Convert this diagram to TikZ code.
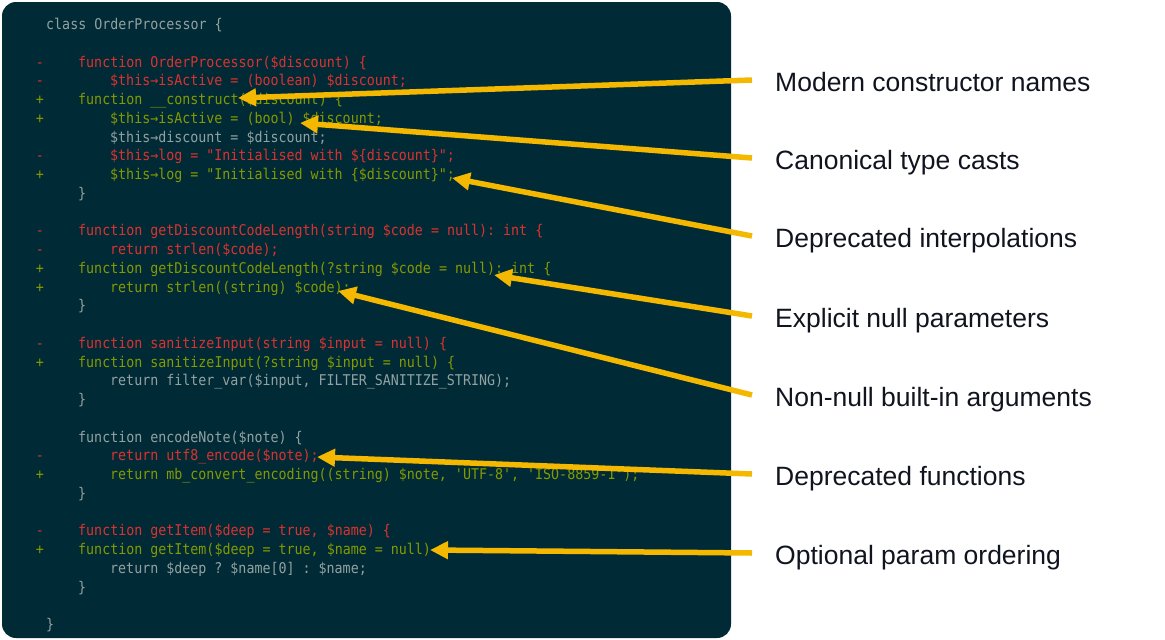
\documentclass[tikz,border=0pt]{standalone}
\usepackage{fontspec}
\setmonofont[FakeStretch=0.9]{DejaVu Sans Mono}
\newfontfamily\lblfont{Liberation Sans}
\usetikzlibrary{positioning,arrows.meta}
\definecolor{panel}{HTML}{002B36}
\definecolor{delred}{HTML}{DC322F}
\definecolor{addgreen}{HTML}{859900}
\definecolor{ctxgrey}{HTML}{93A1A1}
\definecolor{amber}{HTML}{F5B800}
\definecolor{ink}{HTML}{10141E}
\tikzset{
  code/.style={anchor=west, inner sep=0pt, text height=11pt, text depth=0pt, font=\ttfamily\fontsize{14.8}{14.8}\selectfont},
  del/.style={text=delred},
  add/.style={text=addgreen},
  ctx/.style={text=ctxgrey},
  sign/.style={code, anchor=center},
  lbl/.style={anchor=west, inner sep=0pt, text height=18pt, text depth=0pt, text=ink, font=\lblfont\fontsize{26.5}{26.5}\selectfont},
  callout/.style={draw=amber, line width=5.5pt, -{Triangle[length=18pt,width=17pt]}}
}
% one source line: row, column, look, text
\newcommand{\src}[4]{\node[code,#3] (ln#1) at ({46+8*#2},{24+18.75*#1}) {#4};}
% the +/- in the gutter
\newcommand{\diffsign}[3]{\node[sign,#2] (sg#1) at (40,{24+18.75*#1}) {#3};}

\begin{document}
\begin{tikzpicture}[x=1pt,y=-1pt]
  \useasboundingbox (0,0) rectangle (1165,640);
  \fill[panel, rounded corners=14pt] (2,2) rectangle (731,638);

  \src{0}{0}{ctx}{class OrderProcessor \{}
  \diffsign{2}{del}{-}  \src{2}{4}{del}{function OrderProcessor(\$discount) \{}
  \diffsign{3}{del}{-}  \src{3}{8}{del}{\$this→isActive = (boolean) \$discount;}
  \diffsign{4}{add}{+}  \src{4}{4}{add}{function \_\_construct(\$discount) \{}
  \diffsign{5}{add}{+}  \src{5}{8}{add}{\$this→isActive = (bool) \$discount;}
                        \src{6}{8}{ctx}{\$this→discount = \$discount;}
  \diffsign{7}{del}{-}  \src{7}{8}{del}{\$this→log = "Initialised with \$\{discount\}";}
  \diffsign{8}{add}{+}  \src{8}{8}{add}{\$this→log = "Initialised with \{\$discount\}";}
                        \src{9}{4}{ctx}{\}}

  \diffsign{11}{del}{-} \src{11}{4}{del}{function getDiscountCodeLength(string \$code = null): int \{}
  \diffsign{12}{del}{-} \src{12}{8}{del}{return strlen(\$code);}
  \diffsign{13}{add}{+} \src{13}{4}{add}{function getDiscountCodeLength(?string \$code = null): int \{}
  \diffsign{14}{add}{+} \src{14}{8}{add}{return strlen((string) \$code);}
                        \src{15}{4}{ctx}{\}}

  \diffsign{17}{del}{-} \src{17}{4}{del}{function sanitizeInput(string \$input = null) \{}
  \diffsign{18}{add}{+} \src{18}{4}{add}{function sanitizeInput(?string \$input = null) \{}
                        \src{19}{8}{ctx}{return filter\_var(\$input, FILTER\_SANITIZE\_STRING);}
                        \src{20}{4}{ctx}{\}}

                        \src{22}{4}{ctx}{function encodeNote(\$note) \{}
  \diffsign{23}{del}{-} \src{23}{8}{del}{return utf8\_encode(\$note);}
  \diffsign{24}{add}{+} \src{24}{8}{add}{return mb\_convert\_encoding((string) \$note, 'UTF-8', 'ISO-8859-1');}
                        \src{25}{4}{ctx}{\}}

  \diffsign{27}{del}{-} \src{27}{4}{del}{function getItem(\$deep = true, \$name) \{}
  \diffsign{28}{add}{+} \src{28}{4}{add}{function getItem(\$deep = true, \$name = null) \{}
                        \src{29}{8}{ctx}{return \$deep ? \$name[0] : \$name;}
                        \src{30}{4}{ctx}{\}}
                        \src{32}{0}{ctx}{\}}

  % callouts
  \node[lbl] (ctor)   at (775,82)  {Modern constructor names};
  \node[lbl] (cast)   at (775,160) {Canonical type casts};
  \node[lbl] (interp) at (775,238) {Deprecated interpolations};
  \node[lbl] (nullp)  at (775,318) {Explicit null parameters};
  \node[lbl] (bltin)  at (775,397) {Non-null built-in arguments};
  \node[lbl] (depf)   at (775,476) {Deprecated functions};
  \node[lbl] (order)  at (775,555) {Optional param ordering};

  \coordinate (ctor-t)   at (238,98);
  \coordinate (cast-t)   at (300,123);
  \coordinate (interp-t) at (452,178);
  \coordinate (nullp-t)  at (494,275);
  \coordinate (bltin-t)  at (338,291);
  \coordinate (depf-t)   at (317,457);
  \coordinate (order-t)  at (430,550);

  \foreach \c in {ctor,cast,interp,nullp,bltin,depf,order}
    \draw[callout] ([shift={(-23pt,2pt)}]\c.west) -- (\c-t);
\end{tikzpicture}
\end{document}
